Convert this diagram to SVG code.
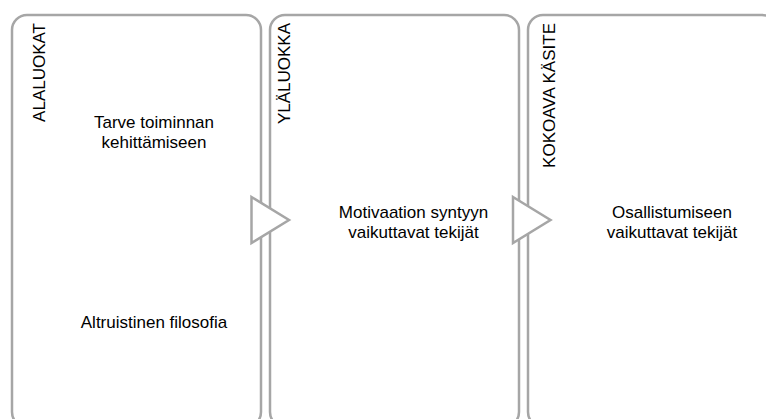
<svg xmlns="http://www.w3.org/2000/svg" width="766" height="419" viewBox="0 0 766 419">
  <style>
    .box { fill: #ffffff; stroke: #a6a6a6; stroke-width: 2.5; }
    .arrow { fill: #ffffff; stroke: #a6a6a6; stroke-width: 2.5; stroke-linejoin: miter; }
    text { font-family: "Liberation Sans", Arial, sans-serif; font-size: 17px; fill: #000000; }
    .c { text-anchor: middle; }
    .v { text-anchor: end; }
  </style>
  <rect width="766" height="419" fill="#ffffff"/>
  <g id="node-alaluokat">
    <rect class="box" x="12" y="15" width="249" height="412" rx="15" ry="15"/>
    <text class="v" transform="translate(45,23) rotate(-90)">ALALUOKAT</text>
    <text class="c" x="154" y="128">Tarve toiminnan</text>
    <text class="c" x="154" y="148">kehittämiseen</text>
    <text class="c" x="154" y="328">Altruistinen filosofia</text>
  </g>
  <g id="node-ylaluokka">
    <rect class="box" x="270" y="15" width="249" height="412" rx="15" ry="15"/>
    <text class="v" transform="translate(290,23) rotate(-90)">YLÄLUOKKA</text>
    <text class="c" x="413.5" y="218">Motivaation syntyyn</text>
    <text class="c" x="413.5" y="238">vaikuttavat tekijät</text>
  </g>
  <g id="node-kokoava">
    <rect class="box" x="528" y="15" width="249" height="412" rx="15" ry="15"/>
    <text class="v" transform="translate(555,23) rotate(-90)">KOKOAVA KÄSITE</text>
    <text class="c" x="672" y="218">Osallistumiseen</text>
    <text class="c" x="672" y="238">vaikuttavat tekijät</text>
  </g>
  <g id="connectors">
    <polygon class="arrow" points="251.5,197 289,220 251.5,243"/>
    <polygon class="arrow" points="513,197 550.5,220 513,243"/>
  </g>
</svg>
